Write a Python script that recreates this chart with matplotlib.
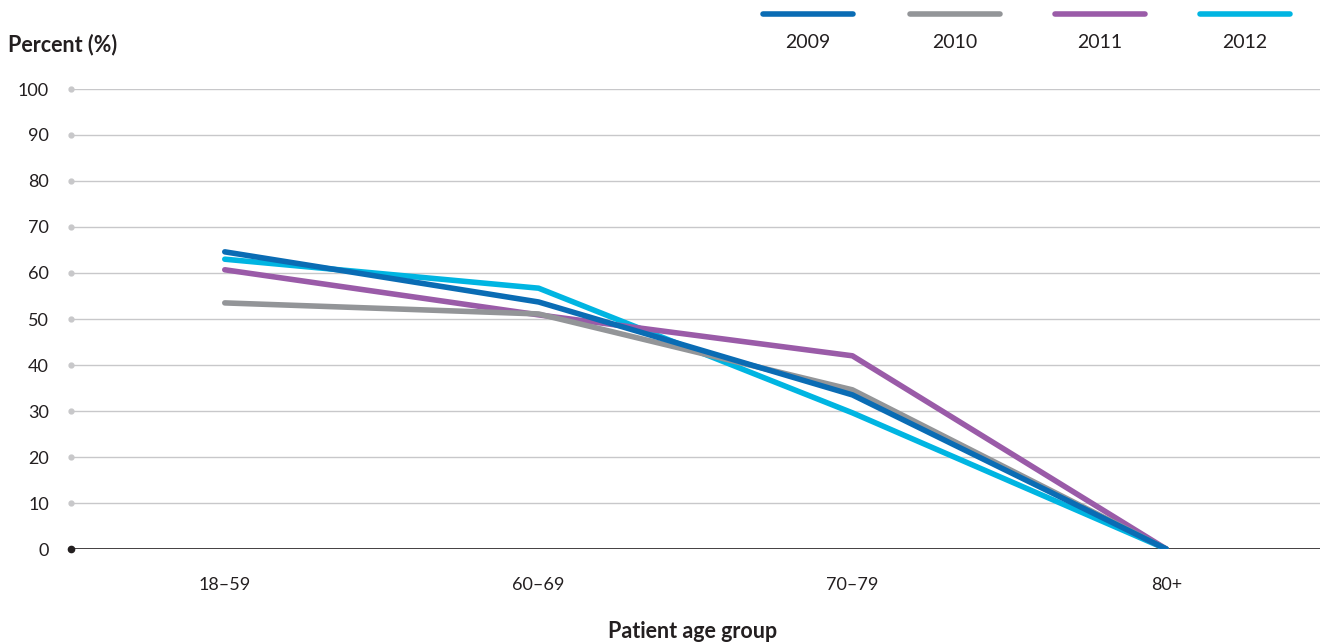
import matplotlib.pyplot as plt
from matplotlib.lines import Line2D

plt.rcParams['font.family'] = ['Lato', 'DejaVu Sans']

# data
age_groups = ['18–59', '60–69', '70–79', '80+']
years = ['2009', '2010', '2011', '2012']
pct_2009 = [64.6, 53.7, 33.5, 0]
pct_2010 = [53.5, 51.1, 34.6, 0]
pct_2011 = [60.7, 50.9, 42.0, 0]
pct_2012 = [63.0, 56.7, 29.6, 0]
yticks = list(range(0, 101, 10))

colors = ['#0a6cb4', '#939598', '#9a5ba8', '#00b5e2']
series = [pct_2009, pct_2010, pct_2011, pct_2012]
zorders = [6, 5, 4, 3]

fig = plt.figure(figsize=(13.2, 6.43), dpi=100)
ax = fig.add_axes([71 / 1320, (643 - 549) / 643, 1 - 71 / 1320, (549 - 89) / 643])

x = range(len(age_groups))
for vals, c, z in zip(series, colors, zorders):
    ax.plot(x, vals, color=c, lw=4, solid_capstyle='round', zorder=z)

# grid lines and tick dots
for t in yticks:
    if t == 0:
        ax.axhline(0, color='#231f20', lw=1.2, zorder=2)
        ax.plot([-0.49], [0], 'o', color='#231f20', ms=4.5, clip_on=False, zorder=7)
    else:
        ax.axhline(t, color='#c8c8ca', lw=1.0, zorder=1)
        ax.plot([-0.49], [t], 'o', color='#c8c8ca', ms=3.5, clip_on=False, zorder=2)

ax.set_xlim(-0.49, 3.49)
ax.set_ylim(0, 100)
ax.set_yticks(yticks)
ax.set_yticklabels([str(t) for t in yticks], fontsize=13, color='#231f20')
ax.set_xticks(list(x))
ax.set_xticklabels(age_groups, fontsize=13, color='#231f20')
ax.tick_params(axis='y', length=0, pad=16)
ax.tick_params(axis='x', length=0, pad=20)
for s in ax.spines.values():
    s.set_visible(False)

fig.text(8 / 1320, 1 - 45 / 643, 'Percent (%)', fontsize=15.5, fontweight='bold',
         color='#231f20', va='center', ha='left')
fig.text(693 / 1320, 1 - 632 / 643, 'Patient age group', fontsize=15.5, fontweight='bold',
         color='#231f20', va='center', ha='center')

# legend: line above label
centers = [808, 955, 1100, 1245]
for cx, c, yr in zip(centers, colors, years):
    fig.add_artist(Line2D([(cx - 45) / 1320, (cx + 45) / 1320], [1 - 14 / 643] * 2,
                          color=c, lw=4, solid_capstyle='round', transform=fig.transFigure))
    fig.text(cx / 1320, 1 - 42 / 643, yr, fontsize=14, color='#231f20',
             ha='center', va='center')

fig.savefig('out.png', dpi=100)
